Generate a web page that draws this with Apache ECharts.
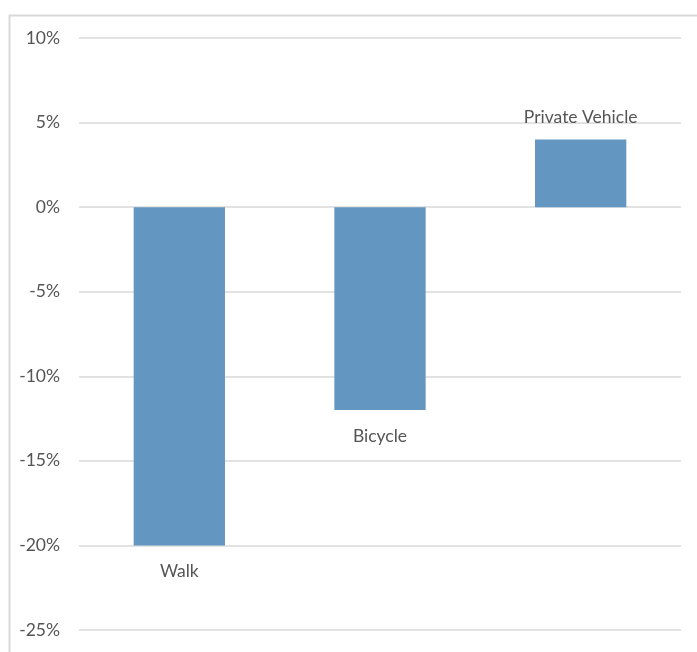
<!DOCTYPE html>
<html>
<head>
<meta charset="utf-8">
<style>html,body{margin:0;padding:0;background:#fff;}#c{width:697px;height:652px;}</style>
<script src="https://cdn.jsdelivr.net/npm/echarts@6/dist/echarts.min.js"></script>
</head>
<body>
<div id="c"></div>
<script>
const categories = ['Walk', 'Bicycle', 'Private Vehicle'];
const values = [-20, -12, 4];
const yTicks = { min: -25, max: 10, interval: 5 };

const chart = echarts.init(document.getElementById('c'), null, { renderer: 'canvas' });
const textColor = '#555555';
const font = 'Lato, "Open Sans", sans-serif';
chart.setOption({
  animation: false,
  graphic: [{
    type: 'rect', left: 7, top: 13, silent: true, z: -10,
    shape: { width: 720, height: 680 },
    style: { fill: 'none', stroke: '#d9d9d9', lineWidth: 2 }
  }],
  grid: { left: 79, right: 16, top: 38, bottom: 22, containLabel: false },
  xAxis: {
    type: 'category', data: categories,
    axisLine: { show: false }, axisTick: { show: false }, axisLabel: { show: false }
  },
  yAxis: {
    type: 'value', min: yTicks.min, max: yTicks.max, interval: yTicks.interval,
    axisLine: { show: false }, axisTick: { show: false },
    axisLabel: { formatter: '{value}%', color: textColor, fontSize: 17.5, fontFamily: font, margin: 19 },
    splitLine: { lineStyle: { color: '#d9d9d9', width: 1.5 } }
  },
  series: [{
    type: 'bar', barWidth: '45.5%',
    data: values.map(v => ({ value: v, label: { distance: v < 0 ? 17 : 13 } })),
    itemStyle: { color: '#6396c0' },
    label: { show: true, position: 'outside', formatter: '{b}', color: textColor, fontSize: 17.5, fontFamily: font }
  }]
});
</script>
</body>
</html>
